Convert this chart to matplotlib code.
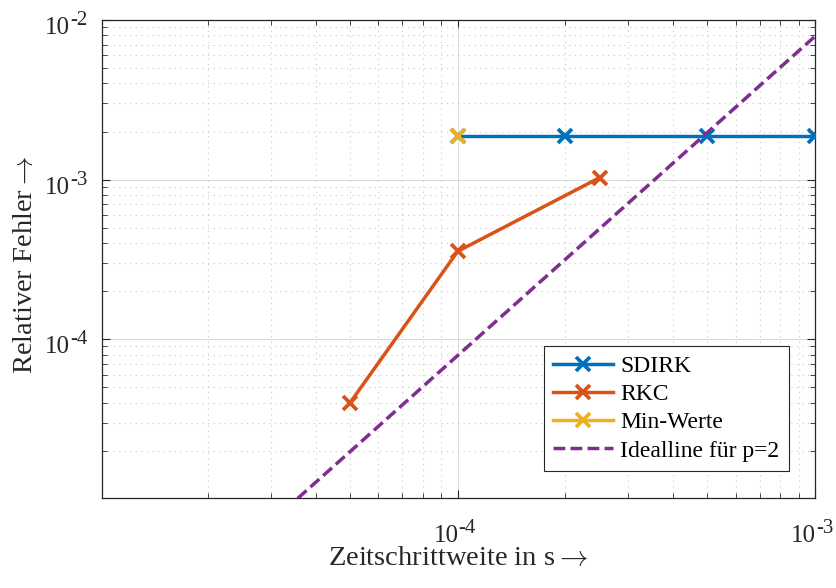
import numpy as np
import matplotlib
matplotlib.use("Agg")
import matplotlib.pyplot as plt
from matplotlib.ticker import LogLocator, FixedLocator, NullFormatter

plt.rcParams['font.family'] = ['Liberation Serif', 'DejaVu Serif']

# Step sizes (s) and relative errors
dt_sdirk = [1e-4, 2e-4, 5e-4, 1e-3]
err_sdirk = [1.87e-3, 1.87e-3, 1.87e-3, 1.87e-3]

dt_rkc = [5e-5, 1e-4, 2.5e-4]
err_rkc = [4.0e-5, 3.55e-4, 1.03e-3]

dt_min = [1e-4]
err_min = [1.87e-3]

# Ideal second-order line: err = C * dt^2
dt_ideal = [1e-5, 1e-3]
c_ideal = 7.9e3
order_p = 2

x_ticks = [1e-4, 1e-3]
y_ticks = [1e-4, 1e-3, 1e-2]

c_blue = '#0072BD'
c_orange = '#D95319'
c_yellow = '#EDB120'
c_purple = '#7E2F8E'
c_text = '#262626'

fig = plt.figure(figsize=(8.36, 5.88), dpi=100)
ax = fig.add_axes([102 / 836, 1 - 498 / 588, 713 / 836, 478 / 588])

lw = 2.5
ms = 9.5
mew = 2.7
ax.plot(dt_sdirk, err_sdirk, '-x', color=c_blue, lw=lw, ms=ms, mew=mew, label='SDIRK', zorder=3)
ax.plot(dt_rkc, err_rkc, '-x', color=c_orange, lw=lw, ms=ms, mew=mew, label='RKC', zorder=3)
ax.plot(dt_min, err_min, '-x', color=c_yellow, lw=lw, ms=ms, mew=mew, label='Min-Werte', zorder=4)
dt_i = np.array(dt_ideal)
ax.plot(dt_i, c_ideal * dt_i ** order_p, '--', color=c_purple, lw=lw, dashes=(3.4, 1.5),
        label='Idealline für p=2', zorder=3)

ax.set_xscale('log')
ax.set_yscale('log')
ax.set_xlim(1.01e-5, 1e-3)
ax.set_ylim(1.01e-5, 1e-2)

ax.xaxis.set_major_locator(FixedLocator(x_ticks))
ax.yaxis.set_major_locator(FixedLocator(y_ticks))
ax.xaxis.set_minor_locator(LogLocator(base=10, subs=np.arange(2, 10)))
ax.yaxis.set_minor_locator(LogLocator(base=10, subs=np.arange(2, 10)))
ax.xaxis.set_minor_formatter(NullFormatter())
ax.yaxis.set_minor_formatter(NullFormatter())

ax.tick_params(which='both', direction='in', top=True, right=True, colors=c_text,
               labelbottom=False, labelleft=False)
ax.tick_params(which='major', length=6, width=0.8)
ax.tick_params(which='minor', length=3.5, width=0.6)

# decade labels: base "10" with a raised exponent
base_size = 18
exp_size = 15
for t in x_ticks:
    e = int(round(np.log10(t)))
    ax.annotate('10', xy=(t, 0), xycoords=ax.get_xaxis_transform(), xytext=(1, -44),
                textcoords='offset pixels', ha='right', va='baseline', fontsize=base_size,
                color=c_text, annotation_clip=False)
    ax.annotate(f'-{abs(e)}', xy=(t, 0), xycoords=ax.get_xaxis_transform(), xytext=(1, -35),
                textcoords='offset pixels', ha='left', va='baseline', fontsize=exp_size,
                color=c_text, annotation_clip=False)
for t in y_ticks:
    e = int(round(np.log10(t)))
    ax.annotate('10', xy=(0, t), xycoords=ax.get_yaxis_transform(), xytext=(-32, -14),
                textcoords='offset pixels', ha='right', va='baseline', fontsize=base_size,
                color=c_text, annotation_clip=False)
    ax.annotate(f'-{abs(e)}', xy=(0, t), xycoords=ax.get_yaxis_transform(), xytext=(-32, -5),
                textcoords='offset pixels', ha='left', va='baseline', fontsize=exp_size,
                color=c_text, annotation_clip=False)

ax.grid(True, which='major', color='#dcdcdc', lw=0.8, ls='-', zorder=0)
ax.grid(True, which='minor', color='#c8c8c8', lw=0.8, ls=(0, (1, 4)), zorder=0)
ax.set_axisbelow(True)
for s in ax.spines.values():
    s.set_color(c_text)
    s.set_linewidth(0.9)

ax.set_xlabel('Zeitschrittweite in s$\\rightarrow$', fontsize=20.5, color=c_text,
              math_fontfamily='cm')
ax.xaxis.set_label_coords(0.5, -0.1004)
ax.set_ylabel('Relativer Fehler$\\rightarrow$', fontsize=20.5, color=c_text,
              math_fontfamily='cm', va='baseline')
ax.yaxis.set_label_coords((32 - 102) / 713, 0.487)

leg = ax.legend(loc='lower right', bbox_to_anchor=(1 - 26 / 713, 27 / 478), fontsize=17,
                frameon=True, fancybox=False, edgecolor=c_text, framealpha=1,
                handlelength=2.55, handletextpad=0.3, borderpad=0.4, labelspacing=0.28,
                borderaxespad=0)
leg.get_frame().set_linewidth(0.8)

fig.savefig('out.png', dpi=100)
